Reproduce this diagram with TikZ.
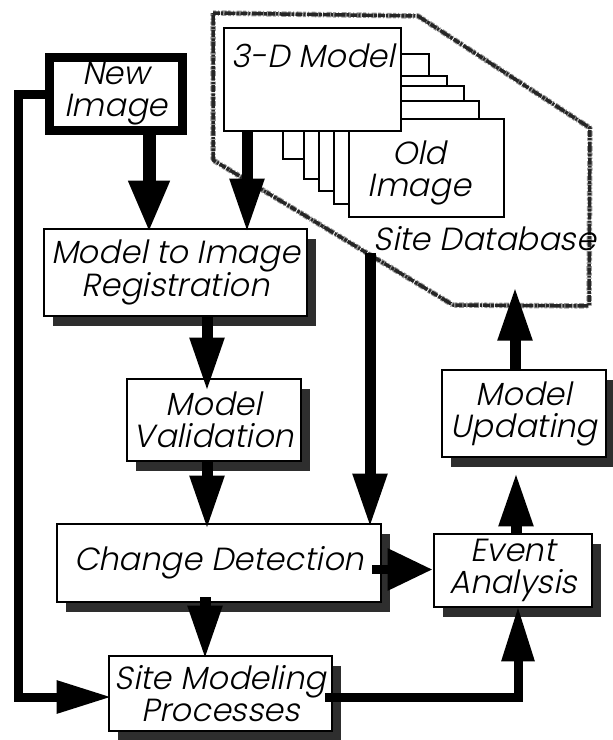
\documentclass[tikz,border=0pt]{standalone}
\usepackage{fontspec}
\newfontfamily\gothic{Poppins Light}[FakeSlant=0.2]
\usetikzlibrary{arrows.meta,calc,shadows}

\begin{document}
\begin{tikzpicture}[x=1pt,y=-1pt,
  lbl/.style={font=\gothic\fontsize{32}{32}\selectfont, align=center, inner sep=0pt},
  box/.style={lbl, draw, line width=2.8pt, fill=white,
    drop shadow={shadow xshift=9pt, shadow yshift=-10pt, fill=black!82, opacity=1}},
  sheet/.style={draw, line width=2.6pt, fill=white, inner sep=0pt},
  sourcebox/.style={lbl, draw, line width=9pt, fill=white},
  dbgrain/.style={draw=black!40, line width=5.5pt, line join=round,
    dash pattern=on 3pt off 2pt on 1pt off 2.5pt on 5pt off 1.5pt},
  dbline/.style={draw=black!85, line width=3.5pt, line join=round,
    dash pattern=on 7pt off 1pt on 2pt off 1.5pt on 11pt off 0.8pt on 3pt off 1.2pt},
  flow/.style={line width=11pt, -{Triangle[width=32pt,length=54pt]}},
  wideflow/.style={line width=13pt, -{Triangle[width=38pt,length=52pt]}},
  sideflow/.style={line width=9pt, -{Triangle[width=40pt,length=45pt]}},
  railflow/.style={line width=9pt, -{Triangle[width=31pt,length=55pt]}},
]
\useasboundingbox (0,0) rectangle (613,740);

% site database outline, drawn as a rough speckled border
\path[dbgrain] (213,13) -- (418,16) -- (590,128) -- (589,306) -- (453,305) -- (213,160) -- cycle;
\path[dbline] (213,13) -- (418,16) -- (590,128) -- (589,306) -- (453,305) -- (213,160) -- cycle;
\coordinate (dbfoot) at (370,253);

% stacked sheets of the database, back to front
\node[sheet, minimum width=146pt, minimum height=105pt] (sheetA) at (356,106.5) {};
\node[sheet, minimum width=143pt, minimum height=103pt] (sheetB) at (375.5,127.5) {};
\node[sheet, minimum width=145pt, minimum height=105pt] (sheetC) at (391.5,138.5) {};
\node[sheet, minimum width=145pt, minimum height=103pt] (sheetD) at (406.5,152.5) {};
\node[sheet, minimum width=155pt, minimum height=98pt] (oldimg) at (426.5,168) {};
\node[lbl] (oldtext) at ($(oldimg.center)+(-7,5)$) {Old\\Image};
\node[sheet, minimum width=177pt, minimum height=103pt] (m3d) at (312.5,79.5) {};
\node[lbl] (m3dtext) at ($(m3d.north)+(1,29)$) {3-D Model};
\node[lbl] (dbtext) at (485,239) {Site Database};

% processing boxes
\node[sourcebox, minimum width=133pt, minimum height=73pt] (ni) at (116,94) {New\\Image};
\node[box, minimum width=263pt, minimum height=87pt] (mtir) at (175.5,272.5) {Model to Image\\Registration};
\node[box, minimum width=174pt, minimum height=82pt] (mv) at (214,420) {Model\\Validation};
\node[box, minimum width=324pt, minimum height=78pt] (cd) at (219,563) {Change Detection};
\node[box, minimum width=223pt, minimum height=75pt] (smp) at (220.5,693.5) {Site Modeling\\Processes};
\node[box, minimum width=158pt, minimum height=73pt] (ea) at (513,570.5) {Event\\Analysis};
\node[box, minimum width=164pt, minimum height=87pt] (mu) at (524,413.5) {Model\\Updating};

% connectors
\draw[wideflow] ($(ni.south)+(33,0)$) -- ($(ni.south |- mtir.north)+(33,5)$);
\draw[flow] ($(m3d.south)+(-65.5,0)$) -- ($(m3d.south |- mtir.north)+(-65.5,5)$);
\draw[flow] ($(mtir.south -| mv.north)+(-7,0)$) -- ($(mv.north)+(-7,14)$);
\draw[flow] ($(mv.south)+(-7,0)$) -- ($(mv.south |- cd.north)+(-7,7)$);
\draw[flow] (dbfoot) -- ($(dbfoot |- cd.north)+(0,5)$);
\draw[sideflow] ($(cd.east |- ea.west)+(-10,-1)$) -- ($(ea.west)+(0,-1)$);
\draw[flow] ($(cd.south)+(-14,-6)$) -- ($(cd.south |- smp.north)+(-14,5)$);
\draw[flow] ($(ea.north)+(3,0)$) -- ($(ea.north |- mu.south)+(3,14)$);
\draw[flow] ($(mu.north)+(-9,0)$) -- ++(0,-82);
\draw[railflow] (ni.west) -- ++(-27,0) |- ($(smp.west)+(4,3.5)$);
\draw[railflow] ($(smp.east)+(-8,3.5)$) -| ($(ea.south)+(5,-2)$);
\end{tikzpicture}
\end{document}
